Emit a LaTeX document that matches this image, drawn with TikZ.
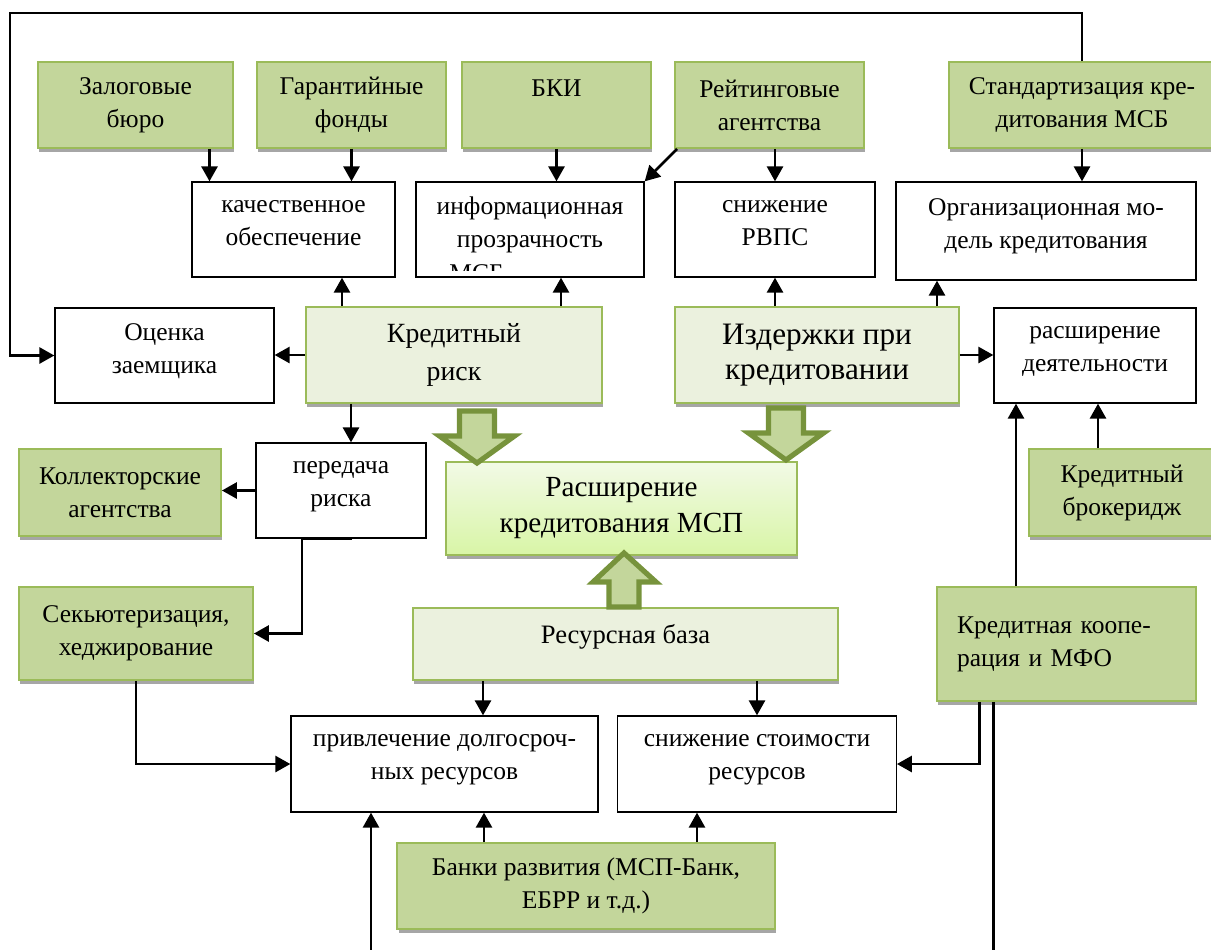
\documentclass[tikz,border=0pt]{standalone}
\usepackage{fontspec}
\setmainfont{Liberation Serif}
\usepackage{tikz}
\usetikzlibrary{arrows.meta,calc,positioning}
\definecolor{olivefill}{HTML}{C3D69B}
\definecolor{palefill}{HTML}{EBF1DE}
\definecolor{oliveline}{HTML}{9BBB59}
\definecolor{arrowline}{HTML}{77933C}
\definecolor{shadowgray}{HTML}{A6A6A6}
\definecolor{gradtop}{HTML}{F2FAE6}
\definecolor{gradbot}{HTML}{D8F5A6}

\newcommand\fnorm{\fontsize{12.75}{16.5}\selectfont}
\newcommand\fmid{\fontsize{13.9}{18.8}\selectfont}
\newcommand\fbig{\fontsize{15.6}{17.5}\selectfont}
\newcommand\fgrad{\fontsize{14.6}{18}\selectfont}
\newcommand\fres{\fontsize{13.3}{16}\selectfont}

\begin{document}
\begin{tikzpicture}[x=0.5pt, y=-0.5pt,
    wh/.style 2 args={minimum width=#1*0.5pt, minimum height=#2*0.5pt},
    base/.style={rectangle, align=center, inner sep=1pt, font=\fnorm},
    shadowed/.style={preaction={fill=shadowgray, draw=none, transform canvas={shift={(0.7pt,-2.2pt)}}}},
    whitebox/.style={base, draw, line width=0.65pt, fill=white, text depth=7pt},
    darkbox/.style={base, shadowed, draw=oliveline, line width=0.9pt, fill=olivefill},
    palebox/.style={base, shadowed, draw=oliveline, line width=0.9pt, fill=palefill},
    gradbox/.style={base, shadowed, draw=oliveline, line width=0.9pt, top color=gradtop, bottom color=gradbot},
    arr/.style={->, line width=1.4pt, >={Triangle[length=7.5pt,width=8pt]}},
    plain/.style={line width=1.4pt},
    fatarrow/.style={draw=arrowline, fill=olivefill, line width=2.6pt, line join=miter}]

    \useasboundingbox (0,0) rectangle (1211,949);

    % top row
    \node[darkbox, wh={195}{86}] (zalog) at (135.5,105) {Залоговые\\бюро};
    \node[darkbox, wh={189}{86}] (garant) at (351.5,105) {Гарантийные\\фонды};
    \node[darkbox, wh={189}{86}] (bki) at (556.5,105) {БКИ\\\mbox{}};
    \node[darkbox, wh={189}{86}] (reiting) at (769.5,105) {Рейтинговые\\агентства};
    \node[darkbox, wh={266}{86}] (standart) at (1082,105) {Стандартизация кре-\\дитования МСБ};

    % effects
    \node[whitebox, wh={203}{95}] (kachestvo) at (293.5,229.5) {качественное\\обеспечение};
    \node[whitebox, wh={228}{95}] (inform) at (530,229.5) {информационная\\прозрачность};
    \begin{scope}
        \clip (inform.north west) rectangle ($(inform.south east)+(0,-7)$);
        \node[font=\fnorm, inner sep=0pt] (informmsb) at (476.5,273.5) {МСБ};
    \end{scope}
    \node[whitebox, wh={200}{95}] (rvps) at (775,229.5) {снижение\\РВПС};
    \node[whitebox, wh={300}{98}] (orgmodel) at (1046,231) {Организационная мо-\\дель кредитования};

    % factors
    \node[whitebox, wh={219}{95}] (ocenka) at (164.5,355.5) {Оценка\\заемщика};
    \node[palebox, wh={296}{96}, font=\fmid] (risk) at (454,355) {Кредитный\\риск};
    \node[palebox, wh={284}{96}, font=\fbig] (izderzhki) at (817,355) {Издержки при\\кредитовании};
    \node[whitebox, wh={202}{95}] (deyat) at (1095,355.5) {расширение\\деятельности};

    \node[whitebox, wh={170}{95}] (peredacha) at (341,490.5) {передача\\риска};
    \node[darkbox, wh={202}{87}] (kollektor) at (120,492.5) {Коллекторские\\агентства};
    \node[gradbox, wh={351}{93}, font=\fgrad] (rasshkred) at (621.5,508.5) {Расширение\\кредитования МСП};
    \node[darkbox, wh={186}{87}] (broker) at (1122,492.5) {Кредитный\\брокеридж};

    % resources
    \node[darkbox, wh={234}{93}] (sekjut) at (136,633.5) {Секьютеризация,\\хеджирование};
    \node[palebox, wh={425}{72}, font=\fres, text depth=10pt] (resurs) at (625.5,644) {Ресурсная база};
    \node[darkbox, wh={259}{114}, align=left, text width=109.5pt, inner xsep=10pt] (kooper) at (1066.5,644) {Кредитная коопе-\\рация и МФО};

    \node[whitebox, wh={307}{96}] (privlech) at (444.5,764) {привлечение долгосроч-\\ных ресурсов};
    \node[whitebox, wh={278.5}{96}] (snizhst) at (757,764) {снижение стоимости\\ресурсов};
    \node[darkbox, wh={377.5}{86}] (banki) at (586,886) {Банки развития (МСП-Банк,\\ЕБРР и т.д.)};

    % connectors
    \coordinate (loop) at (10,13);
    \draw[arr] (standart.north) |- (loop) |- (ocenka.west);
    \draw[arr] ($(zalog.south)+(74,0)$) -- ($(kachestvo.north)+(-84,0)$);
    \draw[arr] (garant.south) -- (garant.south |- kachestvo.north);
    \draw[arr] (bki.south) -- (bki.south |- inform.north);
    \draw[arr] ($(reiting.south west)+(3,0)$) -- (inform.north east);
    \draw[arr] (reiting.south -| rvps.north) -- (rvps.north);
    \draw[arr] (standart.south) -- (standart.south |- orgmodel.north);
    \draw[arr] ($(risk.north)+(-112,0)$) -- ($(kachestvo.south)+(48.5,0)$);
    \draw[arr] ($(risk.north)+(107,0)$) -- ($(inform.south)+(31,0)$);
    \draw[arr] (izderzhki.north -| rvps.south) -- (rvps.south);
    \draw[arr] ($(izderzhki.north)+(120,0)$) -- ($(orgmodel.south)+(-109,0)$);
    \draw[arr] (risk.west) -- (risk.west -| ocenka.east);
    \draw[arr] (izderzhki.east) -- (izderzhki.east -| deyat.west);
    \draw[arr] ($(risk.south)+(-103,0)$) -- ($(peredacha.north)+(10,0)$);
    \draw[arr] (peredacha.west) -- (peredacha.west -| kollektor.east);
    \draw[arr] ($(peredacha.south)+(11,0)$) -- ($(peredacha.south)+(-39,0)$) |- (sekjut.east);
    \draw[arr] (sekjut.south) |- (privlech.west);
    \draw[arr] ($(resurs.south)+(-142.5,0)$) -- ($(privlech.north)+(38.5,0)$);
    \draw[arr] (resurs.south -| snizhst.north) -- (snizhst.north);
    \draw[arr] ($(banki.north)+(-102,0)$) -- ($(privlech.south)+(39.5,0)$);
    \draw[arr] ($(banki.north)+(111,0)$) -- ($(snizhst.south)+(-60,0)$);
    \coordinate (botleft) at (371,955);
    \draw[arr] (botleft) -- (botleft |- privlech.south);
    \draw[arr] ($(kooper.south west)+(43.5,0)$) |- (snizhst.east);
    \coordinate (botright) at (993.5,955);
    \draw[plain] (botright |- kooper.south) -- (botright);
    \draw[arr] ($(kooper.north)+(-50.5,0)$) -- ($(deyat.south)+(-79,0)$);
    \draw[arr] ($(broker.north)+(-24,0)$) -- ($(deyat.south)+(3,0)$);

    % wide arrows into the centre box
    \foreach \tx/\ty in {477/463, 786/460}
        \draw[fatarrow] (\tx,\ty) -- ++(-37.5,-27) -- ++(20,0) -- ++(0,-25) -- ++(35,0) -- ++(0,25) -- ++(20,0) -- cycle;
    \draw[fatarrow] (624,553) -- (593,582) -- (609,582) -- (609,607) -- (639,607) -- (639,582) -- (656,582) -- cycle;
\end{tikzpicture}
\end{document}
